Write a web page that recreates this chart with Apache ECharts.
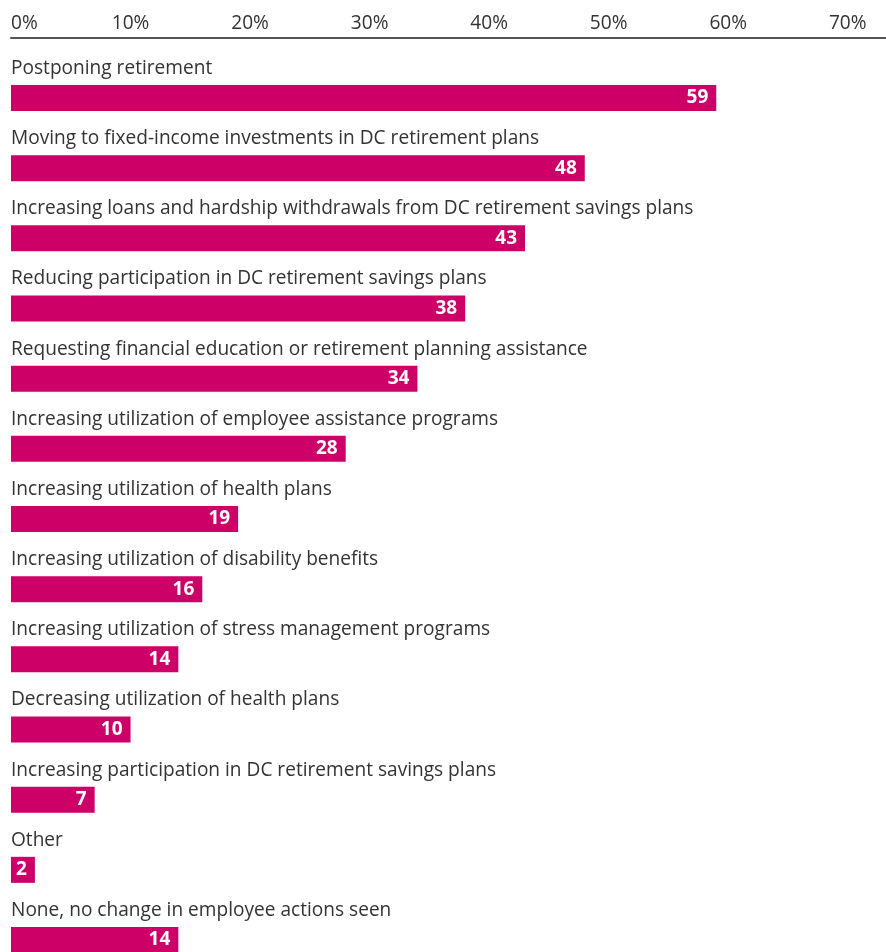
<!DOCTYPE html>
<html>
<head>
<meta charset="utf-8">
<script src="https://cdn.jsdelivr.net/npm/echarts@6/dist/echarts.min.js"></script>
<style>
  html, body { margin: 0; padding: 0; background: #fff; }
  #chart { width: 886px; height: 952px; }
</style>
</head>
<body>
<div id="chart"></div>
<script>
const categories = [
  "Postponing retirement",
  "Moving to fixed-income investments in DC retirement plans",
  "Increasing loans and hardship withdrawals from DC retirement savings plans",
  "Reducing participation in DC retirement savings plans",
  "Requesting financial education or retirement planning assistance",
  "Increasing utilization of employee assistance programs",
  "Increasing utilization of health plans",
  "Increasing utilization of disability benefits",
  "Increasing utilization of stress management programs",
  "Decreasing utilization of health plans",
  "Increasing participation in DC retirement savings plans",
  "Other",
  "None, no change in employee actions seen"
];
const values = [59, 48, 43, 38, 34, 28, 19, 16, 14, 10, 7, 2, 14];
const tickValues = [0, 10, 20, 30, 40, 50, 60, 70];

const FONT = "'Open Sans', 'Liberation Sans', Arial, sans-serif";
// fit font size so the longest label matches the reference width (~684px)
const ctx = document.createElement('canvas').getContext('2d');
ctx.font = "100px " + FONT;
const longest = categories.reduce((a, b) => (b.length > a.length ? b : a));
let FS = Math.round(684 / ctx.measureText(longest).width * 100 * 10) / 10;
if (!(FS > 12 && FS < 24)) FS = 17;

const chart = echarts.init(document.getElementById('chart'));
chart.setOption({
  animation: false,
  grid: { left: 11, right: 0, top: 98, bottom: 12, containLabel: false },
  xAxis: {
    type: 'value',
    position: 'top',
    offset: 60,
    min: 0,
    max: 73.2,
    interval: 10,
    axisLine: { show: true, lineStyle: { color: '#555', width: 2 } },
    axisTick: { show: false },
    splitLine: { show: false },
    axisLabel: {
      showMaxLabel: false,
      alignMinLabel: 'left',
      color: '#333',
      fontSize: FS,
      fontFamily: FONT,
      margin: 5,
      formatter: v => (tickValues.indexOf(v) >= 0 ? v + '%' : '')
    }
  },
  yAxis: {
    type: 'category',
    inverse: true,
    boundaryGap: false,
    data: categories,
    axisLine: { show: false },
    axisTick: { show: false },
    axisLabel: { show: false },
    splitLine: { show: false }
  },
  series: [
    {
      type: 'bar',
      data: values,
      barWidth: 26,
      itemStyle: { color: '#CC0066' },
      label: {
        show: true,
        position: 'insideRight',
        distance: 8,
        color: '#fff',
        fontWeight: 'bold',
        fontSize: 19,
        fontFamily: FONT
      }
    },
    {
      type: 'bar',
      data: values,
      barWidth: 26,
      barGap: '-100%',
      itemStyle: { color: 'rgba(0,0,0,0)' },
      silent: true,
      label: {
        show: true,
        position: [0, -26],
        align: 'left',
        verticalAlign: 'top',
        color: '#333',
        fontSize: FS,
        fontFamily: FONT,
        formatter: p => p.name
      }
    }
  ]
});
</script>
</body>
</html>
